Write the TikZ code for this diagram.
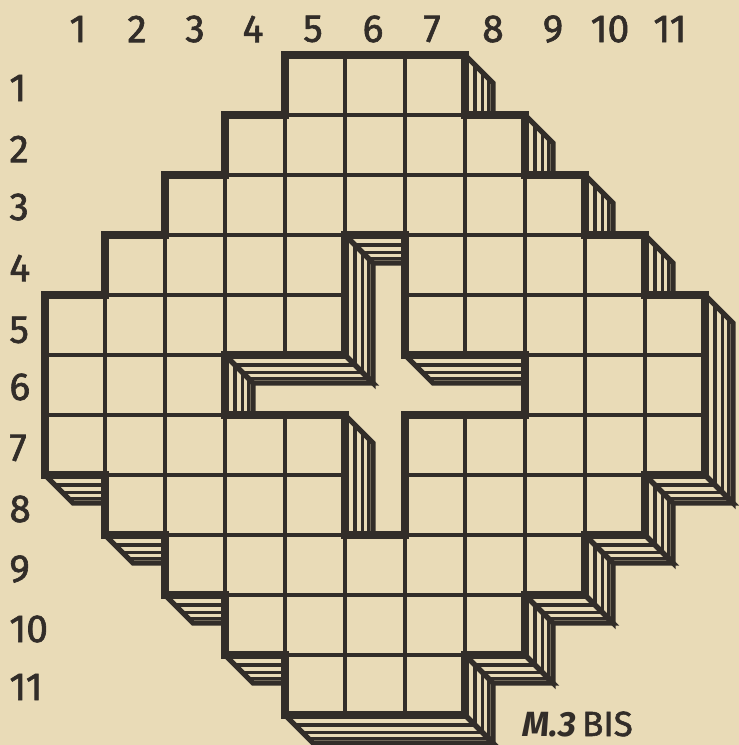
\documentclass[tikz,border=0pt]{standalone}
\usepackage{fontspec}
\setmainfont{Fira Sans}
\newfontfamily\lblfont{Fira Sans}[FakeBold=1.6]
\definecolor{paper}{RGB}{233,219,183}
\definecolor{ink}{RGB}{50,45,41}
\tikzset{
  hatch/.style={draw=ink, line width=1.7pt},
  faceedge/.style={draw=ink, line width=2.6pt, line join=miter},
  cellfill/.style={fill=paper},
  cellgrid/.style={draw=ink, line width=1.8pt},
  outline/.style={draw=ink, line width=4pt, line join=miter},
  lbl/.style={text=ink, inner sep=0pt, font=\lblfont\fontsize{19.5}{20}\selectfont}
}
% right-facing wall: x, y1, y2 (px)
\newcommand\rface[3]{%
  \foreach \t in {0.36,0.62,0.83}{\draw[hatch] ({#1+28*\t},{#2+28*\t}) -- ({#1+28*\t},{#3+28*\t});}
  \draw[faceedge] (#1,#2) -- ++(28,28) -- ({#1+28},{#3+28}) -- (#1,#3);
}
% down-facing wall: y, x1, x2 (px)
\newcommand\bface[3]{%
  \foreach \t in {0.36,0.62,0.83}{\draw[hatch] ({#2+28*\t},{#1+28*\t}) -- ({#3+28*\t},{#1+28*\t});}
  \draw[faceedge] (#2,#1) -- ++(28,28) -- ({#3+28},{#1+28}) -- (#3,#1);
}
\begin{document}
\begin{tikzpicture}[x=0.5pt,y=-0.5pt]
\fill[paper] (0,0) rectangle (739,745);
\useasboundingbox (0,0) rectangle (739,745);

% ---- side walls (drawn first, then hidden parts covered by the top face)
\rface{465}{55}{115}
\rface{525}{115}{175}
\rface{585}{175}{235}
\rface{645}{235}{295}
\rface{705}{295}{475}
\rface{645}{475}{535}
\rface{585}{535}{595}
\rface{525}{595}{655}
\rface{465}{655}{715}
\rface{345}{235}{355}
\rface{225}{355}{415}
\rface{345}{415}{535}

\bface{475}{45}{105}
\bface{535}{105}{165}
\bface{595}{165}{225}
\bface{655}{225}{285}
\bface{715}{285}{465}
\bface{655}{465}{525}
\bface{595}{525}{585}
\bface{535}{585}{645}
\bface{475}{645}{705}
\bface{235}{345}{405}
\bface{355}{225}{345}
\bface{355}{405}{525}

% ---- top face cells
\foreach \r/\lo/\hi in {1/5/7,2/4/8,3/3/9,4/2/10,5/1/11,6/1/11,7/1/11,8/2/10,9/3/9,10/4/8,11/5/7}{
  \foreach \c in {\lo,...,\hi}{
    \pgfmathtruncatemacro\hole{((\c==6)&&(\r>=4)&&(\r<=8))||((\r==6)&&(\c>=4)&&(\c<=8))}
    \ifnum\hole=0 \fill[cellfill] ({45+60*(\c-1)},{55+60*(\r-1)}) rectangle ++(60,60);\fi
  }
}
\foreach \r/\lo/\hi in {1/5/7,2/4/8,3/3/9,4/2/10,5/1/11,6/1/11,7/1/11,8/2/10,9/3/9,10/4/8,11/5/7}{
  \foreach \c in {\lo,...,\hi}{
    \pgfmathtruncatemacro\hole{((\c==6)&&(\r>=4)&&(\r<=8))||((\r==6)&&(\c>=4)&&(\c<=8))}
    \ifnum\hole=0 \draw[cellgrid] ({45+60*(\c-1)},{55+60*(\r-1)}) rectangle ++(60,60);\fi
  }
}

% ---- thick outlines
\draw[outline] (285,55) -- (465,55) -- (465,115) -- (525,115) -- (525,175) -- (585,175)
  -- (585,235) -- (645,235) -- (645,295) -- (705,295) -- (705,475) -- (645,475)
  -- (645,535) -- (585,535) -- (585,595) -- (525,595) -- (525,655) -- (465,655)
  -- (465,715) -- (285,715) -- (285,655) -- (225,655) -- (225,595) -- (165,595)
  -- (165,535) -- (105,535) -- (105,475) -- (45,475) -- (45,295) -- (105,295)
  -- (105,235) -- (165,235) -- (165,175) -- (225,175) -- (225,115) -- (285,115) -- cycle;
\draw[outline] (345,235) -- (405,235) -- (405,355) -- (525,355) -- (525,415) -- (405,415)
  -- (405,535) -- (345,535) -- (345,415) -- (225,415) -- (225,355) -- (345,355) -- cycle;

% ---- labels
\foreach \n/\x in {1/78,2/137,3/195,4/253,5/313,6/373,7/432,8/493,9/553,10/610,11/670}{
  \node[lbl] (col\n) at (\x,29) {\n};
}
\foreach \n/\y in {1/88,2/149,3/207,4/268,5/330,6/387,7/448,8/509,9/569,10/629,11/687}{
  \node[lbl, anchor=west] (row\n) at (9,\y) {\n};
}
\node[text=ink, inner sep=0pt, anchor=base west, font=\fontsize{17.5}{17}\selectfont] (tag) at (522,736)
  {{\bfseries\itshape M.3}\,{\lblfont BIS}};
\end{tikzpicture}
\end{document}
